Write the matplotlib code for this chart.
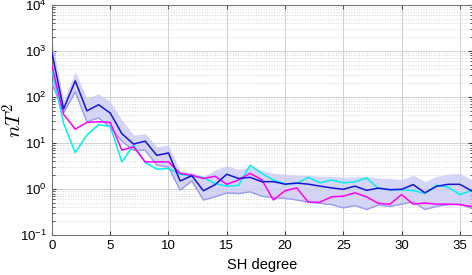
import matplotlib
matplotlib.use("Agg")
import matplotlib.pyplot as plt
from matplotlib.ticker import LogLocator, MultipleLocator, NullFormatter

plt.rcParams['font.family'] = ['Liberation Sans', 'DejaVu Sans']
plt.rcParams['mathtext.fontset'] = 'cm'

# SH-Grad 0..36
grad = list(range(37))

srednia = [910, 55, 224, 50, 68, 45, 16, 9.5, 11, 5.4, 6.1, 1.5, 1.95, 0.92, 1.25, 2.1, 1.7,
           1.8, 1.45, 1.45, 1.28, 1.35, 1.28, 1.16, 1.06, 0.99, 1.16, 0.94, 1.05, 0.97, 0.99,
           1.25, 0.83, 1.15, 1.27, 1.27, 0.92]
gorna = [1750, 85, 355, 93, 118, 80, 32, 15, 16, 8.3, 9, 2.4, 2.3, 1.9, 2.6, 3.2, 2.7,
         3.0, 2.6, 2.2, 2.1, 2.0, 2.0, 1.9, 1.9, 1.8, 1.85, 1.9, 1.75, 1.7, 1.6,
         2.0, 1.45, 1.9, 2.1, 2.2, 1.6]
dolna = [200, 45, 130, 29, 35, 22, 11, 7, 7, 3.3, 3.0, 0.95, 1.5, 0.58, 0.68, 0.83, 0.8,
         0.87, 0.7, 0.65, 0.63, 0.58, 0.52, 0.49, 0.46, 0.39, 0.44, 0.36, 0.45, 0.42, 0.47,
         0.53, 0.36, 0.42, 0.46, 0.47, 0.38]
magenta = [470, 42, 20, 28, 29, 28, 7, 8.3, 3.9, 3.9, 3.9, 2.2, 2.0, 1.7, 1.9, 1.27, 1.57,
           2.2, 1.6, 0.58, 0.92, 1.06, 0.52, 0.52, 0.68, 0.70, 0.83, 0.68, 0.49, 0.47, 0.76,
           0.47, 0.5, 0.47, 0.47, 0.46, 0.42]
cyan = [390, 27, 6.2, 15, 25, 23, 3.9, 9, 3.8, 2.7, 2.8, 2.1, 1.9, 1.78, 1.32, 1.16, 1.2,
        3.3, 2.2, 1.57, 1.3, 1.33, 1.8, 1.37, 1.57, 1.37, 1.43, 1.75, 1.03, 0.97, 0.97,
        0.93, 0.8, 1.22, 1.1, 0.76, 0.93]

fig = plt.figure(figsize=(4.72, 2.75), dpi=100)
ax = fig.add_axes([0.110, 0.145, 0.889, 0.837])

# pasmo niepewnosci
ax.fill_between(grad, dolna, gorna, color='#c8c8f6', alpha=0.75, linewidth=0, zorder=2)
ax.plot(grad, dolna, color='#9a9aee', linewidth=1, zorder=3)

ax.plot(grad, cyan, color='#00f0f0', linewidth=1.1, zorder=4)
ax.plot(grad, magenta, color='#ff00ff', linewidth=1.1, zorder=4)
ax.plot(grad, srednia, color='#1414d8', linewidth=1.1, zorder=5)

ax.set_yscale('log')
ax.set_ylim(1e-1, 1e4)
ax.set_xlim(0, 36)
ax.xaxis.set_major_locator(MultipleLocator(5))
ax.yaxis.set_major_locator(LogLocator(base=10, numticks=10))
ax.yaxis.set_minor_locator(LogLocator(base=10, subs=range(2, 10), numticks=10))
ax.yaxis.set_minor_formatter(NullFormatter())

ax.grid(True, which='major', color='#d0d0d0', linewidth=0.7, zorder=0)
ax.grid(True, which='minor', axis='y', color='#d4d4d4', linewidth=0.7, linestyle=':', zorder=0)
ax.set_axisbelow(True)

ax.tick_params(which='both', direction='in', top=True, right=True, labelsize=9.5,
               color='#404040')
ax.tick_params(which='major', length=3)
ax.tick_params(which='minor', length=1.8)
for s in ax.spines.values():
    s.set_color('#6e6e6e')
    s.set_linewidth(0.7)

ax.set_xlabel('SH degree', fontsize=10.5)
ax.set_ylabel('$nT^2$', fontsize=15)
ax.yaxis.set_label_coords(-0.062, 0.5)

fig.savefig('out.png', dpi=100)
